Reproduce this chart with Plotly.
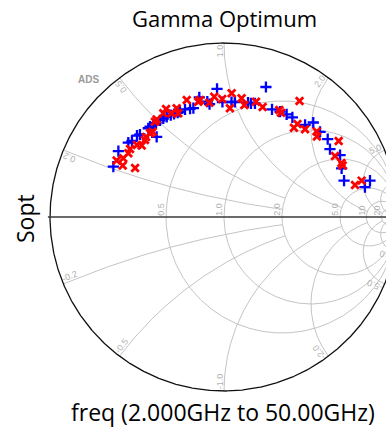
import numpy as np
import plotly.graph_objects as go

# ---------------- data (reflection coefficient) ----------------
blue_re = [-0.636, -0.607, -0.550, -0.529, -0.500, -0.483, -0.435, -0.425, -0.406, -0.391,
           -0.387, -0.368, -0.349, -0.329, -0.306, -0.287, -0.266, -0.253, -0.224, -0.195,
           -0.176, -0.142, -0.096, -0.083, -0.040, -0.009, 0.043, 0.063, 0.138, 0.155,
           0.178, 0.241, 0.276, 0.322, 0.360, 0.393, 0.466, 0.513, 0.552, 0.596,
           0.609, 0.667, 0.676, 0.690, 0.810, 0.839]
blue_im = [0.289, 0.379, 0.428, 0.437, 0.468, 0.474, 0.510, 0.519, 0.532, 0.540,
           0.460, 0.555, 0.566, 0.575, 0.586, 0.592, 0.599, 0.605, 0.618, 0.622,
           0.626, 0.687, 0.663, 0.649, 0.736, 0.661, 0.661, 0.661, 0.657, 0.653,
           0.653, 0.747, 0.619, 0.606, 0.590, 0.572, 0.529, 0.543, 0.489, 0.448,
           0.390, 0.356, 0.280, 0.209, 0.172, 0.209]

red_re = [-0.617, -0.582, -0.579, -0.550, -0.540, -0.511, -0.500, -0.473, -0.448, -0.454,
          -0.425, -0.410, -0.387, -0.397, -0.349, -0.333, -0.301, -0.272, -0.263, -0.214,
          -0.148, -0.138, -0.084, -0.056, -0.010, 0.044, 0.034, 0.101, 0.117, 0.184,
          0.222, 0.318, 0.328, 0.402, 0.422, 0.434, 0.466, 0.533, 0.534, 0.659,
          0.638, 0.675, 0.682, 0.753, 0.791]
red_im = [0.325, 0.296, 0.337, 0.366, 0.391, 0.282, 0.414, 0.411, 0.460, 0.443,
          0.481, 0.490, 0.560, 0.548, 0.596, 0.621, 0.596, 0.625, 0.596, 0.672,
          0.663, 0.672, 0.657, 0.691, 0.678, 0.711, 0.625, 0.682, 0.644, 0.663,
          0.632, 0.615, 0.599, 0.513, 0.534, 0.667, 0.504, 0.491, 0.463, 0.437,
          0.351, 0.310, 0.296, 0.184, 0.209]

resistance_values = [0.5, 1.0, 2.0, 5.0, 10.0, 20.0]
resistance_labels = ["0.5", "1.0", "2.0", "5.0", "10", "20"]
reactance_values = [0.2, 0.5, 1.0, 2.0, 5.0, 10.0, 20.0]
reactance_labels = ["0.2", "0.5", "1.0", "2.0", "5.0", "10", "20"]
reactance_rmax = [2.0, 2.0, 5.0, 10.0, 20.0, np.inf, np.inf]

title_text = "Gamma Optimum"
ylabel_text = "Sopt"
xlabel_text = "freq (2.000GHz to 50.00GHz)"

# ---------------- geometry helpers ----------------
W, H = 386, 427
S = 174.0            # pixels per unit reflection coefficient
CX, CY = 224.0, 217.0

def gamma(z):
    return (z - 1) / (z + 1)

gx, gy = [], []
for r in resistance_values:
    t = np.linspace(0, 2 * np.pi, 721)
    c = r / (1 + r)
    R = 1 / (1 + r)
    gx += list(c + R * np.cos(t)) + [None]
    gy += list(R * np.sin(t)) + [None]
for xv, rmax in zip(reactance_values, reactance_rmax):
    phimax = np.arctan(rmax) if np.isfinite(rmax) else np.pi / 2 - 1e-4
    rr = np.tan(np.linspace(0, phimax, 600))
    for s in (1, -1):
        g = gamma(rr + 1j * s * xv)
        gx += list(g.real) + [None]
        gy += list(g.imag) + [None]

fig = go.Figure()
fig.add_trace(go.Scatter(x=gx, y=gy, mode="lines", line=dict(color="#c4c4c4", width=1),
                         hoverinfo="skip"))
t = np.linspace(0, 2 * np.pi, 1441)
fig.add_trace(go.Scatter(x=np.cos(t), y=np.sin(t), mode="lines",
                         line=dict(color="#111111", width=1.3), hoverinfo="skip"))
fig.add_trace(go.Scatter(x=[-1.012, 1.0], y=[0, 0], mode="lines",
                         line=dict(color="#3a3a3a", width=1.4), hoverinfo="skip"))

fig.add_trace(go.Scatter(x=blue_re, y=blue_im, mode="markers",
                         marker=dict(symbol="cross-thin", size=8, color="#0000ff",
                                     line=dict(color="#0000ff", width=2.3))))
fig.add_trace(go.Scatter(x=red_re, y=red_im, mode="markers",
                         marker=dict(symbol="x-thin", size=7.5, color="#ff0000",
                                     line=dict(color="#ff0000", width=2.8))))

CW = {"0": 5.0, "1": 5.0, "2": 5.0, "5": 5.0, ".": 2.5, "-": 3.0}

def text_len(s):
    return sum(CW.get(ch, 5.0) for ch in s)

annotations = []

def place(text, P, inward_deg, dir_deg, h=6.5, pad=1.5, gap=1.2):
    L = text_len(text)
    ai, ad = np.radians(inward_deg), np.radians(dir_deg + 90)
    cx = P[0] + (np.cos(ai) * (L / 2 + pad) + np.cos(ad) * (h / 2 + gap)) / S
    cy = P[1] + (np.sin(ai) * (L / 2 + pad) + np.sin(ad) * (h / 2 + gap)) / S
    annotations.append(dict(x=cx, y=cy, xref="x", yref="y", text=text, showarrow=False,
                            textangle=-dir_deg, xanchor="center", yanchor="middle",
                            font=dict(family="Liberation Sans", size=9, color="#b0b0b0")))

for r, lab in zip(resistance_values, resistance_labels):
    place(lab, ((r - 1) / (r + 1), 0.0), 90, 90)

for xv, lab in zip(reactance_values, reactance_labels):
    for s in (1, -1):
        g = gamma(1j * s * xv)
        ang = np.degrees(np.arctan2(g.imag, g.real))
        inward = ang + 180
        if s > 0:
            place(lab, (g.real, g.imag), inward, ang)
        else:
            place("-" + lab, (g.real, g.imag), inward, ang + 180)

annotations.append(dict(x=88 / W, y=1 - 79 / H, xref="paper", yref="paper", text="<b>ADS</b>",
                        showarrow=False, xanchor="center", yanchor="middle",
                        font=dict(family="Liberation Sans", size=10, color="#9a9a9a")))
annotations.append(dict(x=225 / W, y=1 - 18 / H, xref="paper", yref="paper", text=title_text,
                        showarrow=False, xanchor="center", yanchor="middle",
                        font=dict(family="Open Sans", size=22, color="#000000")))
annotations.append(dict(x=25 / W, y=1 - 218 / H, xref="paper", yref="paper", text=ylabel_text,
                        showarrow=False, textangle=-90, xanchor="center", yanchor="middle",
                        font=dict(family="Open Sans", size=23, color="#000000")))
annotations.append(dict(x=223 / W, y=1 - 412 / H, xref="paper", yref="paper", text=xlabel_text,
                        showarrow=False, xanchor="center", yanchor="middle",
                        font=dict(family="Open Sans", size=23, color="#000000")))

fig.update_layout(
    width=W, height=H, margin=dict(l=0, r=0, t=0, b=0),
    paper_bgcolor="white", plot_bgcolor="white", showlegend=False,
    xaxis=dict(range=[-CX / S, (W - CX) / S], visible=False, fixedrange=True),
    yaxis=dict(range=[-(H - CY) / S, CY / S], visible=False, fixedrange=True),
    annotations=annotations,
)
fig.write_html("out.html")
